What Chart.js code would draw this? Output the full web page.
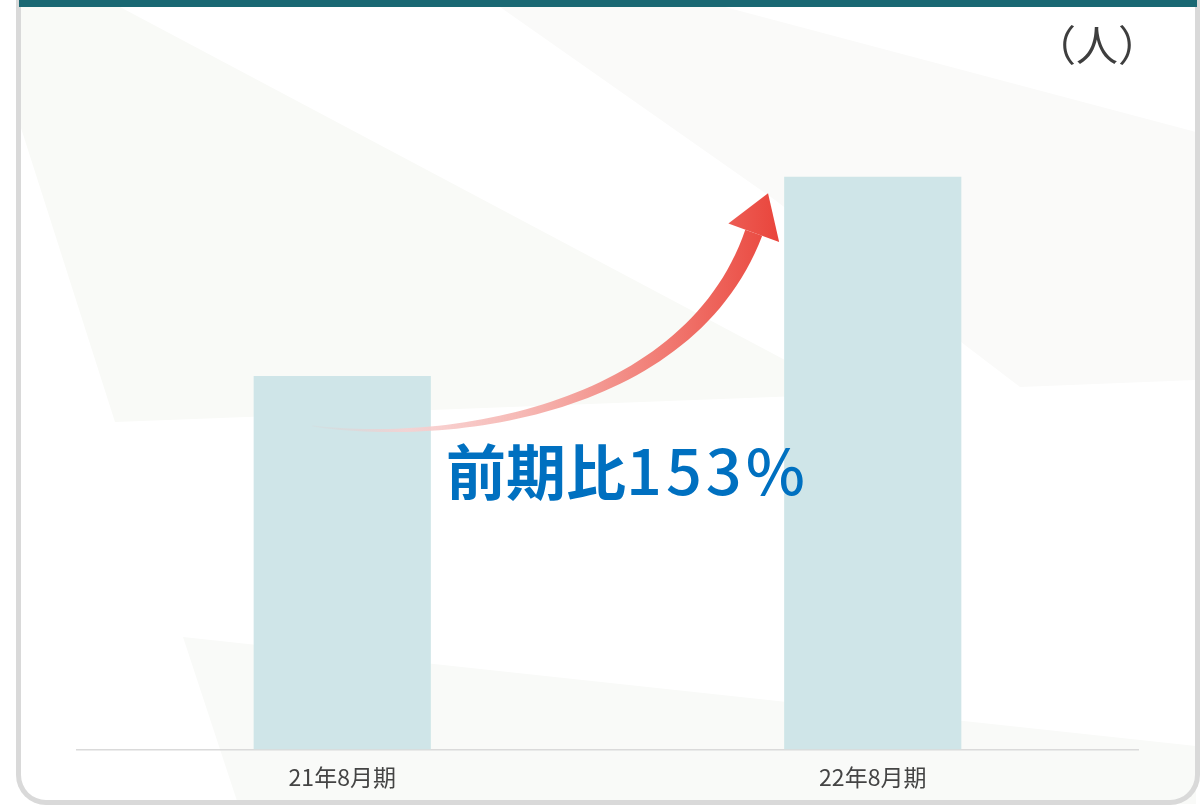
<!DOCTYPE html>
<html lang="ja">
<head>
<meta charset="utf-8">
<script src="https://cdn.jsdelivr.net/npm/chart.js@4.4.1/dist/chart.umd.min.js"></script>
<style>
    html, body { margin: 0; padding: 0; background: #ffffff; }
    #wrap { position: relative; width: 1204px; height: 808px; overflow: hidden; }
    #chart_canvas { position: absolute; left: 0; top: 0; }
    #frame {
        position: absolute; left: 16px; top: 0; width: 1174px; height: 800px;
        border-left: 5px solid #d9d9d9; border-right: 5px solid #d9d9d9; border-bottom: 5px solid #d9d9d9;
        border-radius: 0 0 30px 30px; pointer-events: none;
    }
    #topbar { position: absolute; left: 19px; top: 0; width: 1178px; height: 7px; background: #1a6873; }
    #unit {
        position: absolute; left: 1034px; top: 22px; font-family: 'Noto Sans CJK JP'; font-size: 42px;
        line-height: 1; color: #3e3e3e;
    }
    #growth {
        position: absolute; left: 446px; top: 436px; font-family: 'Noto Sans CJK JP'; font-weight: bold;
        font-size: 60px; line-height: 1; color: #0070c0; white-space: nowrap;
    }
    #growth .num { font-size: 63px; font-weight: 500; letter-spacing: 4px; }
</style>
</head>
<body>
<div id="wrap">
    <canvas id="chart_canvas" width="1204" height="808"></canvas>
    <div id="frame"></div>
    <div id="topbar"></div>
    <div id="unit">（人）</div>
    <div id="growth">前期比<span class="num">153%</span></div>
</div>
<script>
// 期ごとの人数（目盛りがないので棒の高さから読み取った相対値）
const periods = ['21年8月期', '22年8月期'];
const headcount = [30, 46];
const yMax = 50;

const barColor = '#cfe5e8';

// 背景のうすい多角形
const bgShapes = [
    { color: '#f9faf7', pts: [[21, 7], [120, 7], [800, 368], [800, 396], [115, 422], [21, 128]] },
    { color: '#fafaf9', pts: [[500, 7], [725, 7], [1196, 132], [1196, 380], [1020, 387], [775, 200]] },
    { color: '#f9faf8', pts: [[183, 637], [1196, 746], [1196, 804], [238, 804]] },
];

const backgroundPlugin = {
    id: 'bgShapes',
    beforeDraw(chart) {
        const ctx = chart.ctx;
        ctx.save();
        bgShapes.forEach(function (s) {
            ctx.beginPath();
            s.pts.forEach(function (p, i) {
                if (i === 0) ctx.moveTo(p[0], p[1]); else ctx.lineTo(p[0], p[1]);
            });
            ctx.closePath();
            ctx.fillStyle = s.color;
            ctx.fill();
        });
        ctx.restore();
    },
};

function bez(p0, p1, p2, p3, t) {
    const u = 1 - t;
    return u * u * u * p0 + 3 * u * u * t * p1 + 3 * u * t * t * p2 + t * t * t * p3;
}

function bezD(p0, p1, p2, p3, t) {
    const u = 1 - t;
    return 3 * u * u * (p1 - p0) + 6 * u * t * (p2 - p1) + 3 * t * t * (p3 - p2);
}

// 21年→22年の上昇矢印（棒の位置を基準に置く）
const arrowPlugin = {
    id: 'growthArrow',
    afterDatasetsDraw(chart) {
        const bars = chart.getDatasetMeta(0).data;
        const b1 = bars[0], b2 = bars[1];
        const ctx = chart.ctx;

        const P = [
            [b1.x - 30, b1.y + 50],
            [b1.x + 108, b1.y + 69],
            [b2.x - 183, b2.y + 233],
            [b2.x - 119, b2.y + 56],
        ];
        const n = 60;
        const left = [], right = [];
        for (let i = 0; i <= n; i++) {
            const t = i / n;
            const x = bez(P[0][0], P[1][0], P[2][0], P[3][0], t);
            const y = bez(P[0][1], P[1][1], P[2][1], P[3][1], t);
            const dx = bezD(P[0][0], P[1][0], P[2][0], P[3][0], t);
            const dy = bezD(P[0][1], P[1][1], P[2][1], P[3][1], t);
            const len = Math.sqrt(dx * dx + dy * dy);
            const nx = -dy / len, ny = dx / len;
            const w = 0.6 + 8.4 * Math.pow(t, 1.2);
            left.push([x + nx * w, y + ny * w]);
            right.push([x - nx * w, y - ny * w]);
        }

        const grad = ctx.createLinearGradient(P[0][0], 0, b2.x - 90, 0);
        grad.addColorStop(0, 'rgba(225,200,200,0.15)');
        grad.addColorStop(0.2, 'rgba(248,208,208,0.85)');
        grad.addColorStop(0.45, '#f6b8b4');
        grad.addColorStop(0.75, '#f17a72');
        grad.addColorStop(1, '#e9433a');

        ctx.save();
        ctx.fillStyle = grad;
        ctx.beginPath();
        left.forEach(function (p, i) {
            if (i === 0) ctx.moveTo(p[0], p[1]); else ctx.lineTo(p[0], p[1]);
        });
        for (let i = right.length - 1; i >= 0; i--) {
            ctx.lineTo(right[i][0], right[i][1]);
        }
        ctx.closePath();
        ctx.fill();

        // 矢じり
        const ex = P[3][0], ey = P[3][1];
        const tx = P[3][0] - P[2][0], ty = P[3][1] - P[2][1];
        const tl = Math.sqrt(tx * tx + ty * ty);
        const ux = tx / tl, uy = ty / tl;
        const half = 27, headLen = 42;
        ctx.beginPath();
        ctx.moveTo(ex - uy * half, ey + ux * half);
        ctx.lineTo(ex + ux * headLen, ey + uy * headLen);
        ctx.lineTo(ex + uy * half, ey - ux * half);
        ctx.closePath();
        ctx.fill();
        ctx.restore();
    },
};

function loadHeadcountChart() {
    const ctx = document.getElementById('chart_canvas').getContext('2d');

    new Chart(ctx, {
        type: 'bar',
        data: {
            labels: periods,
            datasets: [
                {
                    data: headcount,
                    backgroundColor: barColor,
                    borderWidth: 0,
                    categoryPercentage: 1,
                    barPercentage: 0.334,
                }],
        },
        options: {
            responsive: false,
            animation: false,
            devicePixelRatio: 1,
            layout: {
                padding: { left: 77, right: 66, top: 127, bottom: 3 },
            },
            plugins: {
                legend: { display: false },
                tooltip: { enabled: false },
            },
            scales: {
                y: {
                    display: false,
                    min: 0,
                    max: yMax,
                },
                x: {
                    grid: { display: false, drawTicks: false },
                    border: { display: true, color: '#dadada', width: 1.5 },
                    ticks: {
                        padding: 14,
                        color: '#444444',
                        font: { family: "'Noto Sans CJK JP'", size: 23 },
                    },
                },
            },
        },
        plugins: [backgroundPlugin, arrowPlugin],
    });
}

loadHeadcountChart();
</script>
</body>
</html>
